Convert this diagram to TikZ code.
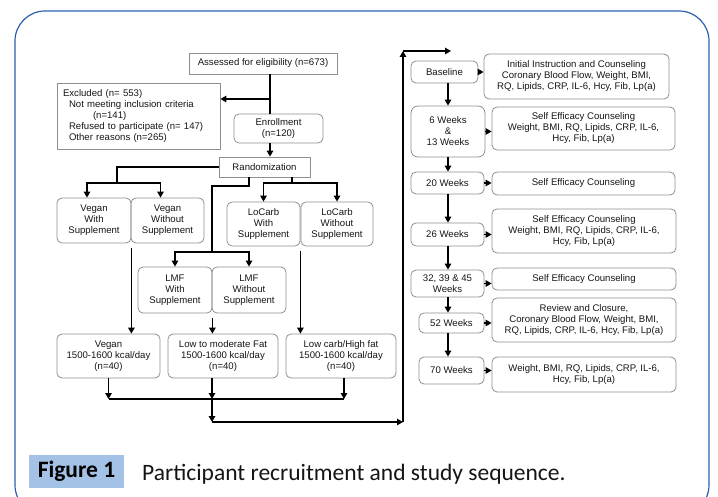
\documentclass[tikz,border=0pt]{standalone}
\usepackage{fontspec}
\setmainfont{Liberation Sans}
\newfontfamily\capfont{Carlito}
\usepackage{xcolor}
\usepackage{tikz}
\usetikzlibrary{arrows.meta}
\definecolor{framebl}{HTML}{2B5FAD}
\definecolor{capbl}{HTML}{A4C2E6}
\definecolor{boxgr}{HTML}{8E8E8E}
\definecolor{txtgr}{HTML}{151515}
\tikzset{
  sqbox/.style={draw=boxgr, line width=0.8pt, inner sep=0pt, align=center, text=txtgr,
    font=\fontsize{9.6}{11}\selectfont},
  rbox/.style={sqbox, rounded corners=5pt},
  ln/.style={line width=1.3pt},
  arr/.style={ln, -{Triangle[length=6pt,width=6.5pt]}}
}

\begin{document}
\begin{tikzpicture}[x=1pt, y=-1pt]
\useasboundingbox (0,0) rectangle (718,497);
\draw[framebl, line width=1.2pt, rounded corners=30pt] (15,11) rectangle (709,515);

% recruitment and randomization
\node[sqbox, minimum width=148pt, minimum height=21pt] (assess) at (263,63.5) {Assessed for eligibility (n=673)};
\node[sqbox, minimum width=163pt, minimum height=66pt, text width=151pt, align=left] (excl) at (138.5,116)
  {Excluded (n= 553)\\\hspace*{6pt}Not meeting inclusion criteria\\\hspace*{30pt}(n=141)\\
   \hspace*{6pt}Refused to participate (n= 147)\\\hspace*{6pt}Other reasons (n=265)};
\node[rbox, minimum width=89pt, minimum height=29pt] (enrol) at (278.5,128.5) {Enrollment\\(n=120)};
\node[sqbox, minimum width=91pt, minimum height=20pt] (rand) at (264.5,167) {Randomization};

\node[rbox, minimum width=74pt, minimum height=45pt] (vwith) at (94,220.5) {Vegan\\With\\Supplement};
\node[rbox, minimum width=73pt, minimum height=45pt] (vwout) at (167.5,220.5) {Vegan\\Without\\Supplement};
\node[rbox, minimum width=73pt, minimum height=44pt] (cwith) at (263.5,224) {LoCarb\\With\\Supplement};
\node[rbox, minimum width=72pt, minimum height=44pt] (cwout) at (337,224) {LoCarb\\Without\\Supplement};
\node[rbox, minimum width=74pt, minimum height=46pt] (lwith) at (175,290) {LMF\\With\\Supplement};
\node[rbox, minimum width=74pt, minimum height=46pt] (lwout) at (249,290) {LMF\\Without\\Supplement};

\node[rbox, minimum width=103pt, minimum height=44pt] (dvegan) at (108.5,356) {Vegan\\1500-1600 kcal/day\\(n=40)};
\node[rbox, minimum width=110pt, minimum height=44pt] (dlmf) at (223,356) {Low to moderate Fat\\1500-1600 kcal/day\\(n=40)};
\node[rbox, minimum width=110pt, minimum height=44pt] (dcarb) at (341,356) {Low carb/High fat\\1500-1600 kcal/day\\(n=40)};

\coordinate (trunk) at (270,0);
\coordinate (xbr) at (270,99);
\coordinate (vbar) at (117,183);
\coordinate (lsplit) at (212,186);
\coordinate (lbar) at (212,252);
\coordinate (cbar) at (292,183);
\coordinate (mbar) at (212,399);
\coordinate (rbot) at (212,422);
\coordinate (rcorner) at (403,422);
\coordinate (rtop) at (403,51);
\coordinate (rtip) at (451,51);

\draw[ln] (assess.south -| trunk) -- (xbr);
\draw[arr] (xbr) -- (xbr -| excl.east);
\draw[ln] (xbr) -- (enrol.north -| trunk);
\draw[arr] (enrol.south -| trunk) -- (rand.north -| trunk);
\draw[ln] (rand.west) -| (vbar);
\draw[arr] (vbar) -| ([xshift=-7pt]vwith.north);
\draw[arr] (vbar) -| ([xshift=-7pt]vwout.north);
\draw[ln] ([xshift=-15.5pt]rand.south) |- (lsplit) -- (lbar);
\draw[arr] (lbar) -| (lwith.north);
\draw[arr] (lbar) -| (lwout.north);
\draw[ln] ([xshift=27.5pt]rand.south) -- (cbar);
\draw[arr] (cbar) -| (cwith.north);
\draw[arr] (cbar) -| (cwout.north);

\draw[arr] ([yshift=-5pt]vwith.south east) -- (vwith.south east |- dvegan.north);
\draw[arr] ([yshift=-5pt]lwith.south east) -- (lwith.south east |- dlmf.north);
\draw[arr] ([yshift=-5pt]cwith.south east) -- (cwith.south east |- dcarb.north);

\foreach \d/\s in {dvegan/0, dlmf/-11, dcarb/3}
  \draw[arr] ([xshift=\s pt]\d.south) -- ([xshift=\s pt]\d.south |- mbar);
\draw[ln] ([xshift=0pt]dvegan.south |- mbar) -- ([xshift=3pt]dcarb.south |- mbar);
\draw[arr] (mbar) -- (rbot);
\draw[arr] (rbot) -- (rcorner);
\draw[arr] (rcorner) -- (rtop);
\draw[arr] (rtop) -- (rtip);

% study sequence
\node[rbox, minimum width=67pt, minimum height=22pt] (base) at (444.5,72) {Baseline};
\node[rbox, minimum width=74pt, minimum height=51pt, rounded corners=7pt] (wk6) at (448,131.5) {6 Weeks\\\&\\13 Weeks};
\node[rbox, minimum width=73pt, minimum height=22pt] (wk20) at (447.5,183) {20 Weeks};
\node[rbox, minimum width=73pt, minimum height=23pt] (wk26) at (447.5,234.5) {26 Weeks};
\node[rbox, minimum width=73pt, minimum height=27pt] (wk32) at (447.5,283.5) {32, 39 \& 45\\Weeks};
\node[rbox, minimum width=65pt, minimum height=20pt] (wk52) at (451.5,323) {52 Weeks};
\node[rbox, minimum width=65pt, minimum height=27pt] (wk70) at (451.5,370.5) {70 Weeks};

\node[rbox, minimum width=185pt, minimum height=45pt] (act1) at (576.5,76.5)
  {Initial Instruction and Counseling\\Coronary Blood Flow, Weight, BMI,\\RQ, Lipids, CRP, IL-6, Hcy, Fib, Lp(a)};
\node[rbox, minimum width=183pt, minimum height=43pt] (act6) at (583.5,128.5)
  {Self Efficacy Counseling\\Weight, BMI, RQ, Lipids, CRP, IL-6,\\Hcy, Fib, Lp(a)};
\node[rbox, minimum width=183pt, minimum height=23pt] (act20) at (583.5,183.5) {Self Efficacy Counseling};
\node[rbox, minimum width=184pt, minimum height=44pt] (act26) at (584,231)
  {Self Efficacy Counseling\\Weight, BMI, RQ, Lipids, CRP, IL-6,\\Hcy, Fib, Lp(a)};
\node[rbox, minimum width=184pt, minimum height=22pt] (act32) at (584,279) {Self Efficacy Counseling};
\node[rbox, minimum width=184pt, minimum height=44pt] (act52) at (584,320)
  {Review and Closure,\\Coronary Blood Flow, Weight, BMI,\\RQ, Lipids, CRP, IL-6, Hcy, Fib, Lp(a)};
\node[rbox, minimum width=184pt, minimum height=35pt] (act70) at (584,374.5)
  {Weight, BMI, RQ, Lipids, CRP, IL-6,\\Hcy, Fib, Lp(a)};

\coordinate (rtrunk) at (448,0);
\foreach \a/\b in {base/wk6, wk6/wk20, wk20/wk26, wk26/wk32, wk32/wk52, wk52/wk70}
  \draw[arr] (\a.south -| rtrunk) -- (\b.north -| rtrunk);
\foreach \w/\t in {base/act1, wk6/act6, wk20/act20, wk26/act26, wk32/act32, wk52/act52, wk70/act70}
  \draw[arr] (\w.east) -- (\w.east -| \t.west);

% caption
\node[fill=capbl, minimum width=95pt, minimum height=33pt, inner sep=0pt,
  font=\capfont\bfseries\fontsize{23.5}{26}\selectfont] (figlbl) at (76.5,471.5) {Figure 1};
\node[anchor=base west, inner sep=0pt, text=txtgr, font=\capfont\fontsize{23.5}{26}\selectfont]
  (figtxt) at (142,480.5) {Participant recruitment and study sequence.};
\end{tikzpicture}
\end{document}
